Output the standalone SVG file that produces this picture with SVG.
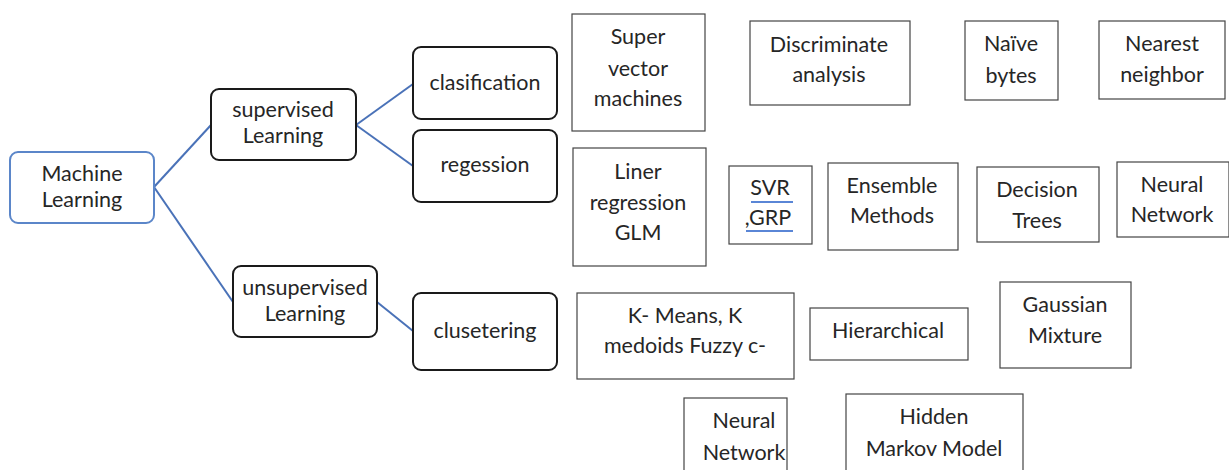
<svg xmlns="http://www.w3.org/2000/svg" width="1229" height="470" viewBox="0 0 1229 470">
  <style>
    .bg { fill: #ffffff; }
    .root { fill: #ffffff; stroke: #5b86c9; stroke-width: 2; }
    .branch { fill: #ffffff; stroke: #1a1a1a; stroke-width: 2; }
    .leaf { fill: #ffffff; stroke: #444444; stroke-width: 1.2; }
    .link { fill: none; stroke: #4a72b8; stroke-width: 2; }
    .lbl { font-family: Lato, "Liberation Sans", sans-serif; font-size: 21.5px; fill: #262626; text-anchor: middle; }
    .squiggle { stroke: #5a86d6; stroke-width: 2; fill: none; }
  </style>
  <rect class="bg" x="0" y="0" width="1229" height="470"/>

  <!-- tree connectors -->
  <g id="connectors">
    <path class="link" d="M154 187 L211 125"/>
    <path class="link" d="M154 187 L233 302"/>
    <path class="link" d="M356 125 L413 84"/>
    <path class="link" d="M356 125 L413 166"/>
    <path class="link" d="M377 302 L413 331"/>
  </g>

  <!-- tree nodes -->
  <g id="machine-learning">
    <rect class="root" x="10" y="152" width="144" height="71" rx="8"/>
    <text class="lbl" x="82" y="181">Machine</text>
    <text class="lbl" x="82" y="207">Learning</text>
  </g>
  <g id="supervised">
    <rect class="branch" x="211" y="89" width="145" height="71" rx="8"/>
    <text class="lbl" x="283" y="117">supervised</text>
    <text class="lbl" x="283" y="143">Learning</text>
  </g>
  <g id="unsupervised">
    <rect class="branch" x="233" y="266" width="144" height="71" rx="8"/>
    <text class="lbl" x="305" y="295">unsupervised</text>
    <text class="lbl" x="305" y="321">Learning</text>
  </g>
  <g id="clasification">
    <rect class="branch" x="413" y="47" width="144" height="72" rx="8"/>
    <text class="lbl" x="485" y="90">clasification</text>
  </g>
  <g id="regession">
    <rect class="branch" x="413" y="130" width="144" height="72" rx="8"/>
    <text class="lbl" x="485" y="172">regession</text>
  </g>
  <g id="clusetering">
    <rect class="branch" x="413" y="293" width="144" height="77" rx="8"/>
    <text class="lbl" x="485" y="338">clusetering</text>
  </g>

  <!-- classification methods -->
  <g id="svm">
    <rect class="leaf" x="572" y="14" width="133" height="117"/>
    <text class="lbl" x="638" y="44">Super</text>
    <text class="lbl" x="638" y="76">vector</text>
    <text class="lbl" x="638" y="106">machines</text>
  </g>
  <g id="discriminate">
    <rect class="leaf" x="750" y="21" width="160" height="84"/>
    <text class="lbl" x="829" y="52">Discriminate</text>
    <text class="lbl" x="829" y="82">analysis</text>
  </g>
  <g id="naive">
    <rect class="leaf" x="965" y="21" width="93" height="79"/>
    <text class="lbl" x="1011" y="51">Naïve</text>
    <text class="lbl" x="1011" y="83">bytes</text>
  </g>
  <g id="nearest">
    <rect class="leaf" x="1099" y="21" width="126" height="78"/>
    <text class="lbl" x="1162" y="51">Nearest</text>
    <text class="lbl" x="1162" y="82">neighbor</text>
  </g>

  <!-- regression methods -->
  <g id="linear">
    <rect class="leaf" x="573" y="148" width="133" height="118"/>
    <text class="lbl" x="638" y="179">Liner</text>
    <text class="lbl" x="638" y="210">regression</text>
    <text class="lbl" x="638" y="240">GLM</text>
  </g>
  <g id="svr">
    <rect class="leaf" x="729" y="166" width="83" height="78"/>
    <text class="lbl" x="770" y="195">SVR</text>
    <text class="lbl" x="768" y="225">,GRP</text>
    <path class="squiggle" d="M751 202 L793 202"/>
    <path class="squiggle" d="M746 231 L793 231"/>
  </g>
  <g id="ensemble">
    <rect class="leaf" x="828" y="163" width="130" height="87"/>
    <text class="lbl" x="892" y="193">Ensemble</text>
    <text class="lbl" x="892" y="223">Methods</text>
  </g>
  <g id="decision-trees">
    <rect class="leaf" x="977" y="167" width="122" height="75"/>
    <text class="lbl" x="1037" y="197">Decision</text>
    <text class="lbl" x="1037" y="228">Trees</text>
  </g>
  <g id="neural-reg">
    <rect class="leaf" x="1117" y="162" width="112" height="75"/>
    <text class="lbl" x="1172" y="192">Neural</text>
    <text class="lbl" x="1172" y="222">Network</text>
  </g>

  <!-- clustering methods -->
  <g id="kmeans">
    <rect class="leaf" x="577" y="293" width="217" height="86"/>
    <text class="lbl" x="685" y="323">K- Means, K</text>
    <text class="lbl" x="685" y="353">medoids Fuzzy c-</text>
  </g>
  <g id="hierarchical">
    <rect class="leaf" x="810" y="308" width="158" height="52"/>
    <text class="lbl" x="888" y="338">Hierarchical</text>
  </g>
  <g id="gaussian">
    <rect class="leaf" x="1000" y="282" width="131" height="86"/>
    <text class="lbl" x="1065" y="312">Gaussian</text>
    <text class="lbl" x="1065" y="343">Mixture</text>
  </g>
  <g id="neural-clu">
    <rect class="leaf" x="684" y="398" width="103" height="80"/>
    <text class="lbl" x="744" y="428">Neural</text>
    <text class="lbl" x="744" y="460">Network</text>
  </g>
  <g id="hmm">
    <rect class="leaf" x="846" y="394" width="177" height="84"/>
    <text class="lbl" x="934" y="424">Hidden</text>
    <text class="lbl" x="934" y="456">Markov Model</text>
  </g>
</svg>
